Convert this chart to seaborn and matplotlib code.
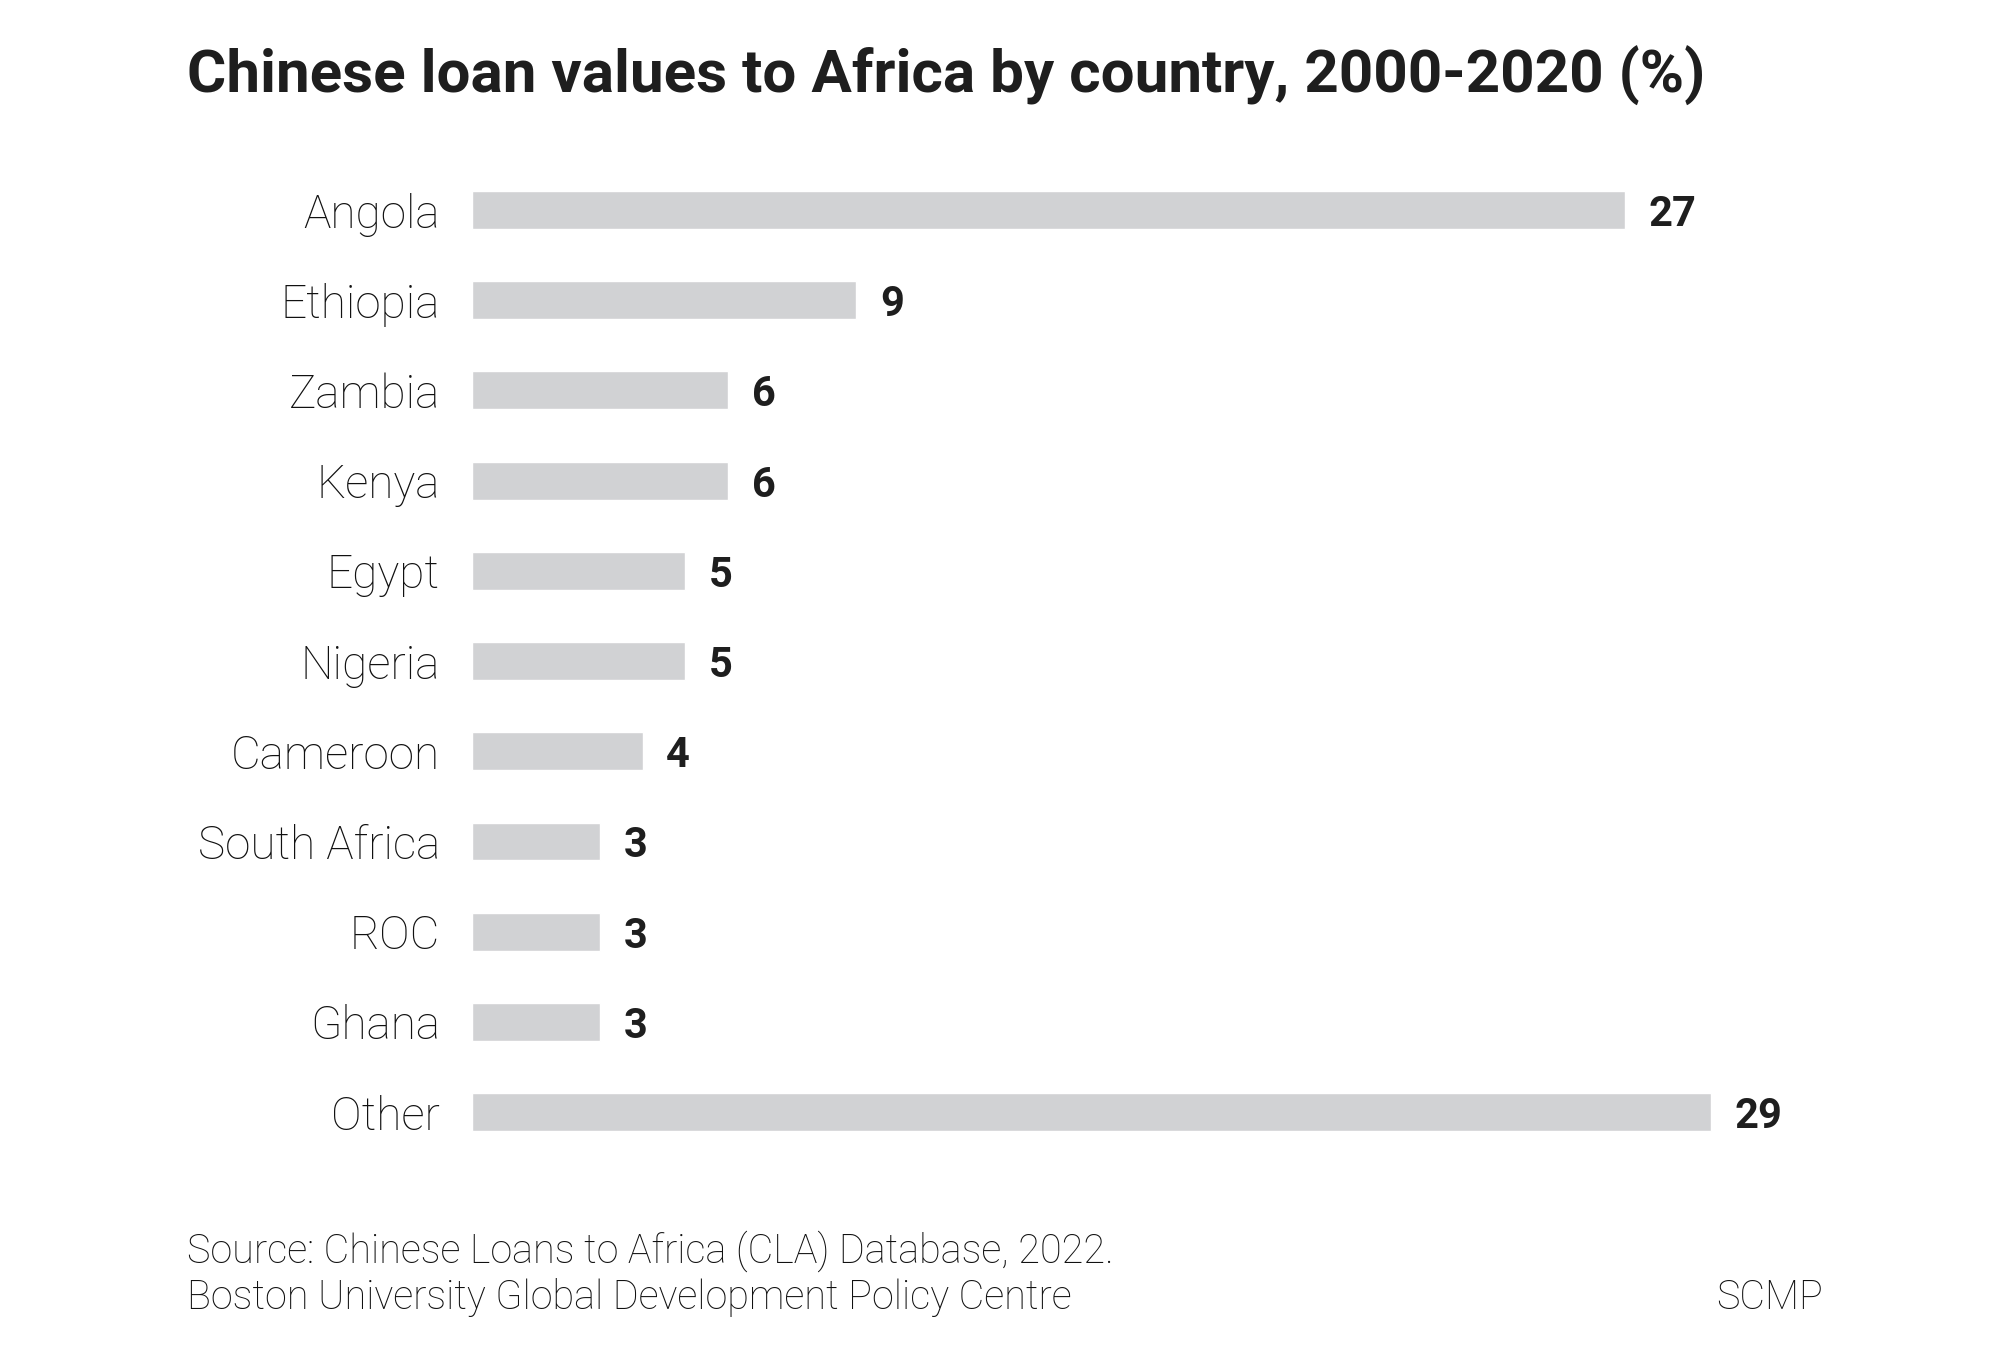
import pandas as pd
import matplotlib
matplotlib.use("Agg")
import matplotlib.pyplot as plt
import seaborn as sns

# Share of Chinese loan values to Africa, 2000-2020 (%)
countries = ["Angola", "Ethiopia", "Zambia", "Kenya", "Egypt", "Nigeria",
             "Cameroon", "South Africa", "ROC", "Ghana", "Other"]
shares = [27, 9, 6, 6, 5, 5, 4, 3, 3, 3, 29]

title = "Chinese loan values to Africa by country, 2000-2020 (%)"
source_lines = ["Source: Chinese Loans to Africa (CLA) Database, 2022.",
                "Boston University Global Development Policy Centre"]
credit = "SCMP"

BAR_COLOR = "#d1d2d4"
TEXT_COLOR = "#1e1e1e"

sns.set_style("white")
plt.rcParams["font.family"] = ["Roboto", "DejaVu Sans"]

df = pd.DataFrame({"country": countries, "share": shares})

fig = plt.figure(figsize=(19.99, 13.63), dpi=100)
ax = fig.add_axes([0.236, 0.151, 0.748, 0.728])

sns.barplot(data=df, x="share", y="country", orient="h", color=BAR_COLOR,
            width=0.42, saturation=1, ax=ax)

vals = ax.bar_label(ax.containers[0], labels=[str(v) for v in shares], padding=17,
                    fontsize=30, fontweight="bold", color=TEXT_COLOR)
for t in vals:
    t.set_va("center_baseline")

ax.set_xlim(0, 35)
ax.set_ylim(10.5, -0.5)
ax.set_xlabel("")
ax.set_ylabel("")
ax.set_xticks([])
ax.tick_params(axis="y", length=0, pad=23, labelsize=33, labelcolor="#111111")
for lbl in ax.get_yticklabels():
    lbl.set_fontweight("light")
sns.despine(ax=ax, left=True, bottom=True)

fig.text(0.0935, 0.932, title, fontsize=43.3, fontweight="bold",
         color=TEXT_COLOR, va="baseline", ha="left")
fig.text(0.0935, 0.074, source_lines[0], fontsize=28.5, fontweight="light",
         color="#111111", va="baseline", ha="left")
fig.text(0.0935, 0.0396, source_lines[1], fontsize=28.5, fontweight="light",
         color="#111111", va="baseline", ha="left")
fig.text(0.912, 0.0396, credit, fontsize=28.5, fontweight="light",
         color="#111111", va="baseline", ha="right")

fig.savefig("out.png", dpi=100, facecolor="white")
